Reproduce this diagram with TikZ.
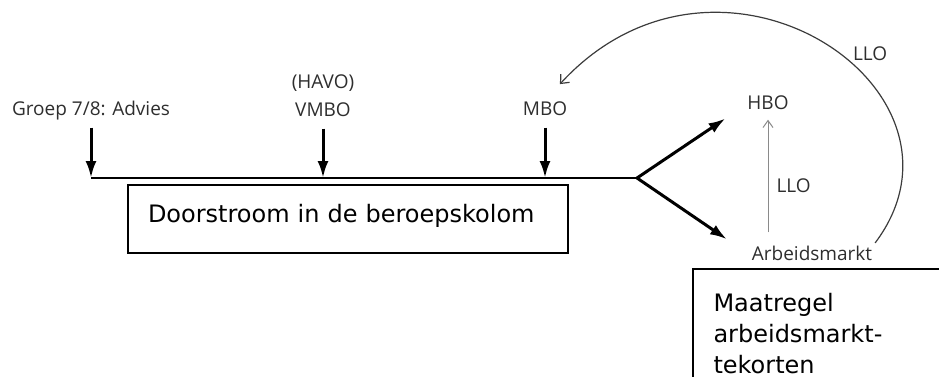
\documentclass[tikz,border=0pt]{standalone}
\usepackage{fontspec}
\usepackage{tikz}
\usetikzlibrary{arrows.meta, calc, positioning}
\newfontfamily\labfont{Open Sans}
\newfontfamily\boxfont{DejaVu Sans}
\definecolor{LabGray}{HTML}{2E2E2E}
\definecolor{LloGray}{HTML}{8A8A8A}
\definecolor{ArcGray}{HTML}{3C3C3C}

\begin{document}
\begin{tikzpicture}[x=1pt, y=-1pt,
lab/.style={
	font=\labfont\fontsize{19}{21}\selectfont,
	text = LabGray,
	text height=14pt,
	text depth=4pt,
	inner sep=1pt},
box/.style={
	rectangle,
	draw,
	line width=2pt,
	font=\boxfont\fontsize{24}{31}\selectfont,
	align=left,
	inner xsep=20pt},
post/.style={
	->,
	draw,
	>={Latex[length=17pt,width=11pt]},
	line width=3pt},
stem/.style={
	draw,
	line width=2.5pt},
llo/.style={
	->,
	draw,
	>={Straight Barb[length=7pt,width=10pt]},
	line width=1pt,
	color = LloGray},
back/.style={
	->,
	draw,
	>={Straight Barb[length=7pt,width=12pt]},
	line width=1.2pt,
	color = ArcGray}]

\useasboundingbox (0,0) rectangle (939,376);

%Stages
\node[lab] (Groep) at (91,110.5) {Groep 7/8: Advies};
\node[lab] (VMBO) at (323,111.5) {VMBO};
\node[lab, above = 8pt of VMBO] (HAVO) {(HAVO)};
\node[lab] (MBO) at (545,110.5) {MBO};

\coordinate (split) at (637,178);

\path[stem] (Groep |- split) to (split);

\foreach \n in {Groep, VMBO, MBO} {
	\path[post, shorten <=7pt] (\n) to (\n |- split);
}

\node[box, anchor=north west, minimum width=440pt, minimum height=68pt, text width=400pt, text height=18pt, text depth=12pt] (door) at (127,184) {Doorstroom in de beroepskolom};

%Outcomes
\node[lab] (HBO) at (768,104.5) {HBO};
\node[lab] (Arb) at (812,255.5) {Arbeidsmarkt};

\path[post, shorten >=25pt] (split) to (HBO.west);
\path[post, shorten >=28.7pt] (split) to (Arb.west);

\path[llo, shorten <=13pt, shorten >=5pt] (Arb.north -| HBO) to node[lab, right=7pt, pos=.44] (lloA) {LLO} (HBO.south);

\path[back, shorten <=3pt, shorten >=22pt] (Arb.north east) .. controls (990,90) and (720,-90) .. node[lab, pos=.42, anchor=south west] (lloB) {LLO} (MBO.north);

\node[box, anchor=north west, text width=217pt, inner xsep=20.5pt, inner ysep=18.8pt, minimum height=130pt] (maat) at (692,268) {Maatregel\\arbeidsmarkt-\\tekorten};

\end{tikzpicture}
\end{document}
